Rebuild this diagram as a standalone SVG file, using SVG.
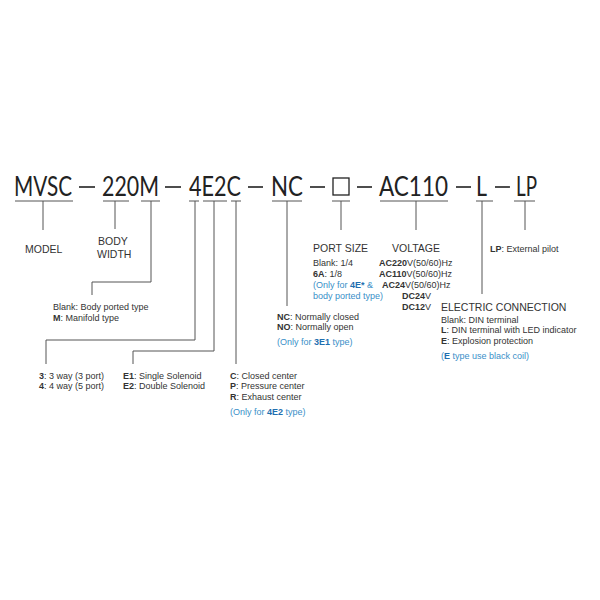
<svg xmlns="http://www.w3.org/2000/svg" width="600" height="600" viewBox="0 0 600 600">
<style>
text{font-family:"Liberation Sans",Arial,sans-serif;fill:#333}
.t{font-size:26px;fill:#222;font-family:Lato,"Liberation Sans",sans-serif;font-weight:400}
.h{font-size:10.5px}
.s{font-size:9px}
.b{font-weight:bold}
.bl{fill:#3a8fc8}
.bb{fill:#1f6fb0;font-weight:bold}
.ln{stroke:#555;stroke-width:1;fill:none}
</style>
<rect width="600" height="600" fill="#fff"/>
<g id="title">
<text class="t" x="14" y="196" textLength="58" lengthAdjust="spacingAndGlyphs">MVSC</text>
<text class="t" x="102" y="196" textLength="57" lengthAdjust="spacingAndGlyphs">220M</text>
<text class="t" x="189" y="196" textLength="52" lengthAdjust="spacingAndGlyphs">4E2C</text>
<text class="t" x="271" y="196" textLength="32" lengthAdjust="spacingAndGlyphs">NC</text>
<rect x="333" y="178" width="16" height="17" fill="none" stroke="#222" stroke-width="1.3"/>
<text class="t" x="379" y="196" textLength="69" lengthAdjust="spacingAndGlyphs">AC110</text>
<text class="t" x="476" y="196" textLength="11" lengthAdjust="spacingAndGlyphs">L</text>
<text class="t" x="516" y="196" textLength="21" lengthAdjust="spacingAndGlyphs">LP</text>
<g stroke="#222" stroke-width="1.6">
<line x1="79" y1="187" x2="95" y2="187"/><line x1="165" y1="187" x2="181" y2="187"/>
<line x1="248" y1="187" x2="263" y2="187"/><line x1="310" y1="187" x2="325" y2="187"/>
<line x1="357" y1="187" x2="372" y2="187"/><line x1="456" y1="187" x2="471" y2="187"/>
<line x1="495" y1="187" x2="510" y2="187"/>
</g>
</g>
<g id="connectors" class="ln">
<path d="M15 201H73M43 201V230"/>
<path d="M103 201H129M115 201V229"/>
<path d="M141 201H160M151 201V282H92V295"/>
<path d="M189 201H199M195 201V340H46V364"/>
<path d="M203 201H227M214 201V351H133V364"/>
<path d="M231 201H241M236 201V364"/>
<path d="M272 201H302M287 201V306"/>
<path d="M332 201H350M341 201V230"/>
<path d="M380 201H448M416 201V230"/>
<path d="M476 201H493M482 201V294"/>
<path d="M514 201H535M525 201V230"/>
</g>
<g id="model"><text class="h" x="25" y="253">MODEL</text></g>
<g id="body"><text class="h" x="98" y="245">BODY</text><text class="h" x="97" y="258">WIDTH</text></g>
<g id="mount"><text class="s" x="53" y="310">Blank: Body ported type</text><text class="s" x="53" y="321"><tspan class="b">M</tspan>: Manifold type</text></g>
<g id="way"><text class="s" x="39" y="379"><tspan class="b">3</tspan>: 3 way (3 port)</text><text class="s" x="39" y="389"><tspan class="b">4</tspan>: 4 way (5 port)</text></g>
<g id="sol"><text class="s" x="123" y="379"><tspan class="b">E1</tspan>: Single Solenoid</text><text class="s" x="123" y="389"><tspan class="b">E2</tspan>: Double Solenoid</text></g>
<g id="center"><text class="s" x="230" y="379"><tspan class="b">C</tspan>: Closed center</text><text class="s" x="230" y="389"><tspan class="b">P</tspan>: Pressure center</text><text class="s" x="230" y="400"><tspan class="b">R</tspan>: Exhaust center</text><text class="s bl" x="230" y="415">(Only for <tspan class="bb">4E2</tspan> type)</text></g>
<g id="nc"><text class="s" x="277" y="320"><tspan class="b">NC</tspan>: Normally closed</text><text class="s" x="277" y="330"><tspan class="b">NO</tspan>: Normally open</text><text class="s bl" x="277" y="345">(Only for <tspan class="bb">3E1</tspan> type)</text></g>
<g id="port"><text class="h" x="313" y="252">PORT SIZE</text><text class="s" x="313" y="266">Blank: 1/4</text><text class="s" x="313" y="277"><tspan class="b">6A</tspan>: 1/8</text><text class="s bl" x="313" y="288">(Only for <tspan class="bb">4E*</tspan> &amp;</text><text class="s bl" x="313" y="299">body ported type)</text></g>
<g id="volt"><text class="h" x="392" y="252">VOLTAGE</text>
<text class="s" x="379" y="266"><tspan class="b">AC220</tspan>V(50/60)Hz</text>
<text class="s" x="379" y="277"><tspan class="b">AC110</tspan>V(50/60)Hz</text>
<text class="s" x="382" y="288"><tspan class="b">AC24</tspan>V(50/60)Hz</text>
<text class="s" x="402" y="299"><tspan class="b">DC24</tspan>V</text>
<text class="s" x="402" y="310"><tspan class="b">DC12</tspan>V</text></g>
<g id="elec"><text class="h" x="441" y="311">ELECTRIC CONNECTION</text><text class="s" x="441" y="323">Blank: DIN terminal</text><text class="s" x="441" y="333"><tspan class="b">L</tspan>: DIN terminal with LED indicator</text><text class="s" x="441" y="344"><tspan class="b">E</tspan>: Explosion protection</text><text class="s bl" x="441" y="359">(<tspan class="bb">E</tspan> type use black coil)</text></g>
<g id="lp"><text class="s" x="490" y="252"><tspan class="b">LP</tspan>: External pilot</text></g>
</svg>
